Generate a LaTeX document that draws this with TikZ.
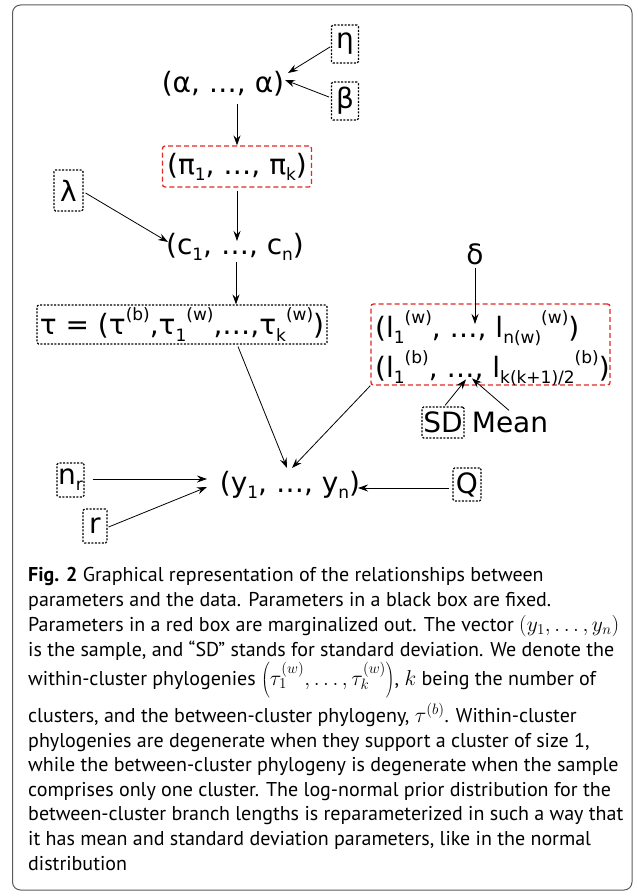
\RequirePackage{fix-cm}
\documentclass[tikz,border=0pt]{standalone}
\usepackage{fontspec}
\usetikzlibrary{arrows.meta,calc}
\setmainfont{PT Sans}
\newfontfamily\diagfont{DejaVu Sans}
\definecolor{boxred}{RGB}{228,38,38}
\definecolor{framegray}{RGB}{90,90,90}
\newcommand\lsub[1]{\raisebox{-0.22em}{\fontsize{17}{17}\selectfont #1}}
\newcommand\lsup[1]{\raisebox{0.5em}{\fontsize{17}{17}\selectfont #1}}
\newcommand\capmath[1]{{\fontsize{21.5}{24}\selectfont$#1$}}
\begin{document}
\begin{tikzpicture}[x=1pt,y=-1pt,
  dfont/.style={font=\diagfont\fontsize{28}{32}\selectfont},
  fixbox/.style={dfont, draw=black, line width=1.1pt, dash pattern=on 2pt off 1.5pt, rounded corners=1.5pt, inner sep=0pt},
  margbox/.style={dfont, draw=boxred, line width=1.3pt, dash pattern=on 5pt off 3pt, rounded corners=2.5pt, inner sep=0pt},
  plain/.style={dfont, inner sep=0pt},
  arr/.style={-{Stealth[length=10pt,width=7pt,inset=3.5pt]}, line width=0.8pt},
  captext/.style={anchor=base west, inner sep=0pt, font=\fontsize{20}{24}\selectfont}
]
\path[use as bounding box] (0,0) rectangle (637,896);
\draw[framegray, line width=1pt, rounded corners=8pt] (12.5,5) rectangle (632,890);

% nodes
\node[fixbox, minimum width=27, minimum height=38] (eta) at (345,44) {η};
\node[fixbox, minimum width=27, minimum height=38] (beta) at (345,101) {β};
\node[plain] (alpha) at (223,84) {(α, …, α)};
\node[margbox, minimum width=149, minimum height=41] (pi) at (237,166.5) {(π\lsub{1}, …, π\lsub{k})};
\node[fixbox, minimum width=29, minimum height=41] (lambda) at (68.5,190.5) {λ};
\node[plain] (c) at (235,247) {(c\lsub{1}, …, c\lsub{n})};
\node[fixbox, minimum width=290, minimum height=39] (tau) at (182,324.5) {τ = (τ\lsup{(b)},τ\lsub{1}\lsup{(w)},…,τ\lsub{k}\lsup{(w)})};
\node[plain] (delta) at (475,254) {δ};
\node[margbox, minimum width=239, minimum height=81] (lbox) at (490.5,344.5) {};
\node[plain, anchor=west] (l1) at (375,328) {(l\lsub{1}\lsup{(w)}, …, l\lsub{n(w)}\lsup{(w)})};
\node[plain, anchor=west] (l2) at (375,368) {(l\lsub{1}\lsup{(b)}, …, l\lsub{k(k+1)/2}\lsup{(b)})};
\node[fixbox, minimum width=42, minimum height=31] (sd) at (443,422.5) {SD};
\node[plain] (mean) at (510,422) {Mean};
\node[plain] (y) at (290,485) {(y\lsub{1}, …, y\lsub{n})};
\node[fixbox, minimum width=27, minimum height=34] (nr) at (70.5,480) {n\lsub{r}};
\node[fixbox, minimum width=24, minimum height=34] (r) at (95,526) {r};
\node[fixbox, minimum width=28, minimum height=33] (q) at (467,484.5) {Q};

% connectors
\draw[arr] ($(eta.west)+(-1,3)$) -- ($(alpha)+(65,-11)$);
\draw[arr] ($(beta.west)+(-2,-4)$) -- ($(alpha)+(62,-4)$);
\draw[arr] ($(alpha)+(14,20)$) -- (pi.north);
\draw[arr] ($(pi.south)+(0,3)$) -- ($(c)+(2,-6)$);
\draw[arr] ($(lambda.east)+(2,2.5)$) -- ($(c)+(-67,-5)$);
\draw[arr] ($(c)+(1,15)$) coordinate (cs) -- (cs |- tau.north);
\draw[arr] ($(tau.south)+(56,2)$) -- ($(y)+(-3,-17)$);
\draw[arr] (lbox.south west) -- ($(y)+(2,-17)$);
\draw[arr] ($(delta.south)+(0,3)$) -- ($(delta)+(0,70)$);
\draw[arr] ($(sd.north)+(2,-1)$) -- ($(sd.north)+(23,-27)$);
\draw[arr] ($(mean.north)+(-1,-1)$) -- ($(sd.north)+(29,-28)$);
\draw[arr] ($(nr.east)+(8,-1)$) -- ($(y)+(-83,-6)$);
\draw[arr] ($(r.east)+(1,1)$) -- ($(y)+(-83,2)$);
\draw[arr] ($(q.west)+(-3,3.5)$) -- ($(y)+(68,3)$);

% caption
\node[captext] (c1) at (28,581) {\textbf{Fig. 2} Graphical representation of the relationships between};
\node[captext] (c2) at (28,606.5) {parameters and the data. Parameters in a black box are fixed.};
\node[captext] (c3) at (28,631.3) {Parameters in a red box are marginalized out. The vector \capmath{(y_1,\ldots,y_n)}};
\node[captext] (c4) at (28,656) {is the sample, and “SD” stands for standard deviation. We denote the};
\node[captext] (c5) at (28,685) {within-cluster phylogenies \capmath{\left(\tau_1^{(w)},\ldots,\tau_k^{(w)}\right)}, \capmath{k} being the number of};
\node[captext] (c6) at (28,722.7) {clusters, and the between-cluster phylogeny, \capmath{\tau^{(b)}}. Within-cluster};
\node[captext] (c7) at (28,747.2) {phylogenies are degenerate when they support a cluster of size 1,};
\node[captext] (c8) at (28,771.7) {while the between-cluster phylogeny is degenerate when the sample};
\node[captext] (c9) at (28,796.2) {comprises only one cluster. The log-normal prior distribution for the};
\node[captext] (c10) at (28,820.7) {between-cluster branch lengths is reparameterized in such a way that};
\node[captext] (c11) at (28,845.2) {it has mean and standard deviation parameters, like in the normal};
\node[captext] (c12) at (28,870) {distribution};
\end{tikzpicture}
\end{document}
